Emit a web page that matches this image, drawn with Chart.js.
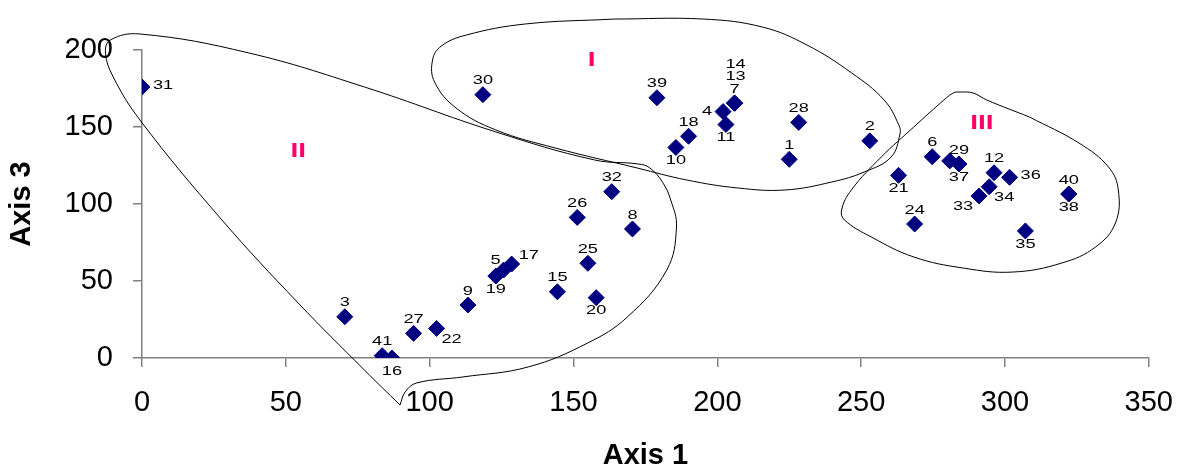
<!DOCTYPE html>
<html>
<head>
<meta charset="utf-8">
<script src="https://cdn.jsdelivr.net/npm/chart.js@4.4.1/dist/chart.umd.min.js"></script>
<style>
  html, body { margin: 0; padding: 0; background: #ffffff; }
  #wrap { width: 1192px; height: 470px; }
</style>
</head>
<body>
<div id="wrap"><canvas id="chart" width="1192" height="470"></canvas></div>
<script>
// Sample numbers and their scores on axis 1 and axis 3
const ids   = [1, 2, 3, 4, 5, 6, 7, 8, 9, 10, 11, 12, 13, 14, 15, 16, 17, 18, 19, 20, 21,
               22, 23, 24, 25, 26, 27, 28, 29, 30, 31, 32, 33, 34, 35, 36, 37, 38, 39, 40, 41];
const axis1 = [225.0, 253.0, 70.5, 202.0, 125.7, 274.7, 206.0, 170.5, 113.3, 185.6, 203.0,
               296.2, 206.0, 206.0, 144.4, 86.9, 128.5, 190.0, 123.0, 157.9, 263.0,
               102.4, 280.8, 268.6, 155.0, 151.3, 94.4, 228.3, 284.0, 118.5, 0.0,
               163.3, 291.0, 294.5, 307.1, 301.6, 284.0, 322.2, 179.0, 322.2, 83.5];
const axis3 = [129.0, 141.0, 26.8, 160.0, 57.1, 130.7, 165.5, 83.8, 34.4, 136.7, 151.6,
               120.3, 165.5, 165.5, 43.0, 0.0, 61.0, 144.0, 53.2, 39.2, 118.6,
               19.2, 128.0, 87.0, 61.5, 91.3, 16.0, 153.0, 126.0, 171.0, 176.0,
               108.0, 105.2, 111.2, 82.5, 117.3, 126.0, 106.5, 169.0, 106.5, 1.5];
// Where each number sits relative to its marker ('' = unlabelled)
const labelSpot = ['n', 'n', 'n', 'w', 'nw', 'n', 'n', 'n', 'n', 's', 's',
                   'n', 'n2', 'n3', 'n', 's', 'ne', 'n', 's', 's', 's',
                   'se', '', 'n', 'n', 'n', 'n', 'n', 'n', 'n', 'e',
                   'n', 'sw', 'se', 's', 'e', 's', 's', 'n', 'n', 'n'];

// Axis ranges
const xTicks = [0, 50, 100, 150, 200, 250, 300, 350];
const yTicks = [0, 50, 100, 150, 200];

// Group names and where they are written (axis units)
const groupNames = ['I', 'II', 'III'];
const groupX = [156.3, 54.3, 292.0];
const groupY = [193.5, 133.8, 152.6];

// Hand-drawn group outlines (axis units), each closed back to its first point
const hullIX = [164.2, 195.1, 215.7, 231.2, 246.7, 258.0, 263.1, 263.5, 260.4, 251.1, 239.8,
                223.6, 207.1, 189.3, 172.1, 143.6, 123.0, 109.2, 101.7, 101.0, 104.0, 112.7,
                133.3, 164.2];
const hullIY = [220.1, 220.1, 214.9, 203.2, 185.1, 167.5, 151.3, 145.5, 130.5, 120.8, 114.3,
                109.1, 110.4, 115.6, 123.4, 136.4, 148.1, 162.3, 179.2, 193.5, 202.5, 209.7,
                216.9, 220.1];

// Group II starts and ends at its pointed bottom tip
const hullIIX = [89.7, 77.3, 54.3, 27.8, -0.7, -10.0, -12.7, -11.0, -0.7, 37.1, 77.3,
                 123.0, 157.3, 172.5, 176.5, 181.0, 183.8, 185.8, 182.4, 168.7, 154.9,
                 134.3, 111.6, 95.5, 91.5, 89.7];
const hullIIY = [-30.5, -7.8, 35.7, 89.6, 154.5, 182.5, 198.1, 206.5, 210.4, 198.1, 176.0,
                 146.8, 128.6, 126.0, 123.5, 114.0, 102.6, 85.1, 57.1, 26.6, 9.7,
                 -5.8, -12.3, -16.2, -22.0, -30.5];

const hullIIIX = [308.5, 325.7, 336.0, 339.4, 338.4, 331.5, 319.8, 302.6, 285.5, 268.3, 253.5,
                  244.2, 243.2, 246.6, 257.0, 268.3, 277.6, 282.0, 284.4, 288.9, 293.7, 308.5];
const hullIIIY = [156.5, 139.6, 124.0, 109.1, 87.7, 72.1, 61.7, 55.8, 58.4, 65.6, 78.6,
                  89.6, 96.1, 109.1, 130.5, 150.0, 165.6, 172.1, 172.7, 172.1, 167.5, 156.5];

const toPoints = (xs, ys) => xs.map((x, i) => ({ x: x, y: ys[i] }));

const NAVY = '#000080';
const AXIS_GREY = '#808080';
const GROUP_PINK = '#FF0066';
const FONT = '"Liberation Sans", Arial, sans-serif';

// Offsets (px) and alignment for each label spot
const spotOffsets = {
  n:  [0, -14, 'center'],
  n2: [1, -26.5, 'center'],
  n3: [1, -38.5, 'center'],
  s:  [0, 13, 'center'],
  e:  [11, -2, 'left'],
  w:  [-11, 0, 'right'],
  ne: [7, -9, 'left'],
  nw: [-3, -10, 'right'],
  se: [15, 11, 'center'],
  sw: [-16, 10, 'center']
};

function wideText(ctx, text, x, y, align, stretch) {
  ctx.save();
  ctx.translate(x, y);
  ctx.scale(stretch, 1);
  ctx.textAlign = align;
  ctx.textBaseline = 'middle';
  ctx.fillText(text, 0, 0);
  ctx.restore();
}

const annotate = {
  id: 'annotate',
  afterDatasetsDraw(chart) {
    const ctx = chart.ctx;
    const meta = chart.getDatasetMeta(0);
    ctx.save();
    ctx.fillStyle = '#000000';
    ctx.font = '13px ' + FONT;
    meta.data.forEach((pt, i) => {
      const spot = labelSpot[i];
      if (!spot) return;
      const off = spotOffsets[spot];
      wideText(ctx, String(ids[i]), pt.x + off[0], pt.y + off[1], off[2], 1.4);
    });
    const xs = chart.scales.x, ys = chart.scales.y;
    ctx.fillStyle = GROUP_PINK;
    ctx.font = 'bold 20px ' + FONT;
    groupNames.forEach((g, i) => {
      wideText(ctx, g, xs.getPixelForValue(groupX[i]), ys.getPixelForValue(groupY[i]), 'center', 1.4);
    });
    ctx.restore();
  }
};

const outline = (pts) => ({
  data: pts,
  showLine: true,
  borderColor: '#000000',
  borderWidth: 1,
  pointRadius: 0,
  pointHoverRadius: 0,
  tension: 0.4,
  clip: false,
  fill: false
});

new Chart(document.getElementById('chart'), {
  type: 'scatter',
  data: {
    datasets: [
      {
        data: toPoints(axis1, axis3),
        pointStyle: 'rectRot',
        pointRadius: 8,
        pointHoverRadius: 8,
        backgroundColor: NAVY,
        borderColor: NAVY,
        borderWidth: 1
      },
      outline(toPoints(hullIX, hullIY)),
      outline(toPoints(hullIIX, hullIIY)),
      outline(toPoints(hullIIIX, hullIIIY))
    ]
  },
  options: {
    responsive: false,
    animation: false,
    devicePixelRatio: 1,
    layout: { padding: { top: 50, right: 31, left: 0, bottom: 0 } },
    plugins: { legend: { display: false }, tooltip: { enabled: false } },
    scales: {
      x: {
        type: 'linear',
        min: xTicks[0],
        max: xTicks[xTicks.length - 1],
        afterBuildTicks(scale) { scale.ticks = xTicks.map(v => ({ value: v })); },
        afterFit(scale) { scale.height = 112; },
        grid: { display: true, drawOnChartArea: false, drawTicks: true, tickLength: 9, color: AXIS_GREY, lineWidth: 1.5 },
        border: { display: true, color: AXIS_GREY, width: 1.5 },
        ticks: { color: '#000000', padding: 19, font: { family: FONT, size: 29 }, maxRotation: 0 },
        title: {
          display: true, text: 'Axis 1', color: '#000000',
          font: { family: FONT, size: 29, weight: 'bold', lineHeight: 1 },
          padding: { top: 0, bottom: 0 }
        }
      },
      y: {
        type: 'linear',
        min: yTicks[0],
        max: yTicks[yTicks.length - 1],
        afterBuildTicks(scale) { scale.ticks = yTicks.map(v => ({ value: v })); },
        afterFit(scale) { scale.width = 142; },
        grid: { display: true, drawOnChartArea: false, drawTicks: true, tickLength: 9, color: AXIS_GREY, lineWidth: 1.5 },
        border: { display: true, color: AXIS_GREY, width: 1.5 },
        ticks: { color: '#000000', padding: 20, font: { family: FONT, size: 29 } },
        title: {
          display: true, text: 'Axis 3', color: '#000000',
          font: { family: FONT, size: 29, weight: 'bold', lineHeight: 1 },
          padding: { top: 7, bottom: 0 }
        }
      }
    }
  },
  plugins: [annotate]
});
</script>
</body>
</html>
